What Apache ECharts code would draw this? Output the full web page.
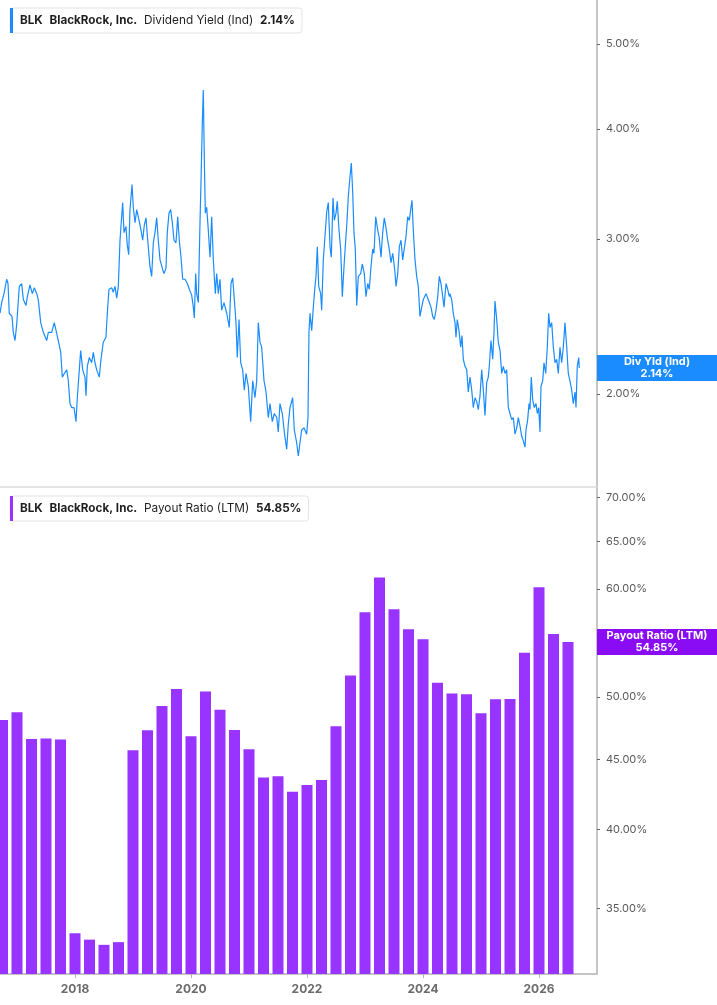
<!DOCTYPE html>
<html><head><meta charset="utf-8">
<script src="https://cdn.jsdelivr.net/npm/echarts@6/dist/echarts.min.js"></script>
<style>html,body{margin:0;padding:0;background:#fff}#c{width:717px;height:1005px}</style>
</head><body><div id="c"></div>
<script>
// Dividend yield (Ind), % — dates as decimal years
const yieldDates = [
2016.707,2016.736,2016.776,2016.822,2016.845,2016.867,2016.914,2016.936,2016.966,2016.995,
2017.022,2017.040,2017.081,2017.109,2017.155,2017.178,2017.224,2017.264,2017.298,2017.340,
2017.367,2017.409,2017.454,2017.512,2017.540,2017.598,2017.643,2017.672,2017.712,2017.754,
2017.781,2017.816,2017.857,2017.885,2017.914,2017.943,2017.983,2018.017,2018.040,2018.064,
2018.098,2018.133,2018.172,2018.190,2018.212,2018.247,2018.288,2018.316,2018.345,2018.374,
2018.419,2018.448,2018.488,2018.534,2018.557,2018.586,2018.633,2018.660,2018.690,2018.719,
2018.747,2018.776,2018.822,2018.845,2018.879,2018.902,2018.926,2018.948,2018.983,2019.005,
2019.035,2019.064,2019.109,2019.138,2019.167,2019.195,2019.224,2019.254,2019.293,2019.322,
2019.350,2019.379,2019.408,2019.436,2019.466,2019.512,2019.535,2019.569,2019.591,2019.621,
2019.650,2019.678,2019.707,2019.741,2019.771,2019.798,2019.828,2019.857,2019.897,2019.936,
2019.971,2020.012,2020.040,2020.057,2020.081,2020.098,2020.126,2020.155,2020.172,2020.195,
2020.212,2020.229,2020.247,2020.271,2020.298,2020.328,2020.357,2020.385,2020.419,2020.443,
2020.471,2020.500,2020.529,2020.569,2020.616,2020.660,2020.690,2020.719,2020.747,2020.776,
2020.798,2020.828,2020.857,2020.891,2020.919,2020.948,2020.988,2021.029,2021.064,2021.103,
2021.133,2021.160,2021.190,2021.219,2021.259,2021.293,2021.333,2021.362,2021.402,2021.436,
2021.478,2021.505,2021.534,2021.574,2021.609,2021.650,2021.678,2021.707,2021.753,2021.781,
2021.822,2021.850,2021.879,2021.908,2021.948,2021.995,2022.017,2022.034,2022.052,2022.081,
2022.109,2022.138,2022.155,2022.178,2022.202,2022.236,2022.253,2022.281,2022.310,2022.340,
2022.367,2022.397,2022.419,2022.448,2022.471,2022.500,2022.522,2022.552,2022.581,2022.609,
2022.638,2022.660,2022.684,2022.712,2022.741,2022.764,2022.788,2022.810,2022.833,2022.857,
2022.885,2022.926,2022.953,2022.988,2023.017,2023.047,2023.074,2023.103,2023.133,2023.155,
2023.185,2023.219,2023.246,2023.276,2023.305,2023.333,2023.362,2023.391,2023.419,2023.448,
2023.478,2023.512,2023.535,2023.564,2023.592,2023.621,2023.650,2023.678,2023.707,2023.736,
2023.764,2023.793,2023.810,2023.833,2023.862,2023.891,2023.919,2023.948,2023.978,2024.005,
2024.052,2024.081,2024.109,2024.138,2024.167,2024.195,2024.224,2024.254,2024.281,2024.310,
2024.340,2024.362,2024.397,2024.426,2024.454,2024.466,2024.495,2024.522,2024.552,2024.569,
2024.591,2024.621,2024.650,2024.672,2024.695,2024.724,2024.754,2024.781,2024.810,2024.840,
2024.867,2024.897,2024.926,2024.954,2024.983,2025.012,2025.040,2025.069,2025.098,2025.126,
2025.143,2025.172,2025.202,2025.224,2025.241,2025.271,2025.298,2025.328,2025.357,2025.385,
2025.414,2025.443,2025.471,2025.500,2025.529,2025.557,2025.586,2025.616,2025.643,2025.672,
2025.702,2025.729,2025.759,2025.776,2025.805,2025.828,2025.845,2025.867,2025.891,2025.919,
2025.948,2025.971,2025.995,2026.017,2026.034,2026.064,2026.086,2026.116,2026.143,2026.167,
2026.190,2026.219,2026.247,2026.276,2026.305,2026.333,2026.362,2026.391,2026.419,2026.448,
2026.478,2026.505,2026.534,2026.564,2026.591,2026.621,2026.638,2026.660,2026.685,2026.695
];
const yieldValues = [
2.47,2.54,2.60,2.70,2.67,2.47,2.45,2.35,2.30,2.40,
2.41,2.65,2.67,2.56,2.52,2.58,2.66,2.60,2.64,2.60,
2.56,2.41,2.35,2.30,2.35,2.35,2.41,2.41,2.30,2.23,
2.09,2.11,2.13,2.07,1.95,1.93,1.93,1.86,1.98,1.97,
2.24,2.13,2.09,1.99,2.15,2.20,2.17,2.23,2.17,2.13,
2.09,2.19,2.29,2.32,2.47,2.63,2.64,2.61,2.65,2.57,
2.65,2.99,3.30,3.05,3.10,2.95,2.88,3.24,3.46,3.26,
3.13,3.24,3.14,3.07,2.99,3.11,3.17,2.99,2.79,2.72,
2.97,3.05,3.17,2.99,2.84,2.77,2.74,2.78,3.05,3.21,
3.24,3.13,2.99,2.97,3.18,2.99,2.86,2.70,2.70,2.67,
2.63,2.59,2.51,2.44,2.74,2.60,2.54,3.13,3.47,4.06,
4.43,3.72,3.21,3.26,3.07,2.86,3.18,2.84,2.60,2.74,
2.60,2.70,2.49,2.54,2.47,2.38,2.67,2.71,2.56,2.41,
2.20,2.43,2.17,2.13,2.02,2.11,2.04,1.86,2.07,1.98,
2.07,2.41,2.29,2.26,2.07,2.01,1.88,1.95,1.86,1.90,
1.88,1.81,1.95,1.90,1.81,1.73,1.85,1.93,1.98,1.82,
1.76,1.70,1.76,1.82,1.83,1.80,1.88,2.35,2.47,2.36,
2.51,2.65,2.72,2.94,2.65,2.60,2.49,2.84,3.02,3.22,
3.30,2.94,2.86,3.34,3.15,3.21,3.31,3.07,2.92,2.58,
2.79,2.94,3.10,3.35,3.53,3.66,3.39,3.05,2.92,2.52,
2.72,2.74,2.81,2.74,2.58,2.67,2.63,2.79,2.92,2.89,
3.18,3.07,3.01,2.86,3.05,3.17,3.09,2.99,2.92,2.82,
2.89,2.77,2.65,2.74,2.94,2.99,2.84,2.84,3.02,3.18,
3.15,3.26,3.32,3.07,2.84,2.72,2.65,2.45,2.51,2.56,
2.60,2.60,2.54,2.51,2.45,2.43,2.49,2.58,2.72,2.67,
2.58,2.51,2.67,2.63,2.58,2.60,2.56,2.47,2.41,2.32,
2.43,2.36,2.26,2.33,2.19,2.15,2.13,2.01,2.09,2.02,
1.93,1.98,1.96,1.92,1.99,2.13,2.02,1.89,2.06,2.09,
2.15,2.30,2.19,2.35,2.55,2.43,2.29,2.24,2.11,2.15,
2.11,2.13,1.93,1.90,1.87,1.88,1.80,1.83,1.88,1.84,
1.79,1.77,1.74,1.82,1.87,1.95,1.92,2.09,1.97,1.93,
1.95,1.90,1.93,1.81,2.04,2.07,2.17,2.11,2.26,2.47,
2.38,2.41,2.26,2.17,2.19,2.11,2.26,2.17,2.26,2.41,
2.26,2.11,2.07,2.02,1.95,2.01,1.93,2.15,2.20,2.14
];
// Payout ratio (LTM), % — quarterly
const payoutDates = [
2016.75,2017.00,2017.25,2017.50,2017.75,2018.00,2018.25,2018.50,2018.75,2019.00,
2019.25,2019.50,2019.75,2020.00,2020.25,2020.50,2020.75,2021.00,2021.25,2021.50,
2021.75,2022.00,2022.25,2022.50,2022.75,2023.00,2023.25,2023.50,2023.75,2024.00,
2024.25,2024.50,2024.75,2025.00,2025.25,2025.50,2025.75,2026.00,2026.25,2026.50
];
const payoutValues = [
48.10,48.73,46.58,46.61,46.53,33.56,33.20,32.91,33.06,45.70,
47.27,49.25,50.68,46.79,50.45,48.94,47.29,45.78,43.64,43.74,
42.60,43.10,43.47,47.59,51.83,57.68,61.15,57.97,56.05,55.11,
51.22,50.28,50.23,48.64,49.81,49.83,53.88,60.16,55.61,54.85
];
const yieldTicks = [2, 3, 4, 5];
const payoutTicks = [35, 40, 45, 50, 55, 60, 65, 70];
const yearTicks = [2018, 2020, 2022, 2024, 2026];

const FONT = 'Inter, "Noto Sans", sans-serif';
const BLUE = '#1a8cff', PURPLE = '#9933ff', PURPLE_DARK = '#8a0cf5';
const fmtPct = v => Number(v).toFixed(2) + '%';
const lastYield = yieldValues[yieldValues.length - 1];
const lastPayout = payoutValues[payoutValues.length - 1];

function legendCfg(top, name, value) {
  return {
    top: top, left: 10, selectedMode: false,
    data: [{ name: name, icon: 'rect' }],
    itemWidth: 3, itemHeight: 25, itemGap: 0,
    padding: [0, 7, 0, 0],
    borderColor: '#e4e4e4', borderWidth: 1, borderRadius: 3, backgroundColor: '#fff',
    formatter: n => `{f|BLK}  {b|BlackRock, Inc.}  {n|${n}}  {b|${fmtPct(value)}}`,
    textStyle: {
      rich: {
        f: { fontWeight: 'bold', fontSize: 11.7, color: '#1f1f1f', fontFamily: FONT, padding: [0, 0, 0, 2] },
        b: { fontWeight: 'bold', fontSize: 11.7, color: '#1f1f1f', fontFamily: FONT },
        n: { fontSize: 11.8, color: '#1f1f1f', fontFamily: FONT }
      }
    }
  };
}
function lastLabel(title, value, color) {
  return {
    silent: true, symbol: 'none',
    lineStyle: { color: 'rgba(0,0,0,0)', width: 0 },
    data: [{ yAxis: value }],
    label: {
      show: true, position: 'end', distance: 0, opacity: 1,
      backgroundColor: color, padding: [1, 0, 1, 0],
      formatter: `{t|${title}}\n{t|${fmtPct(value)}}`,
      rich: { t: { width: 120, align: 'center', color: '#fff', fontWeight: 'bold', fontSize: 11, lineHeight: 12, fontFamily: FONT } }
    }
  };
}
function yAxisCfg(idx, min, max, ticks) {
  return {
    gridIndex: idx, type: 'log', logBase: 10, position: 'right', min: min, max: max,
    axisLine: { show: true, onZero: false, lineStyle: { color: '#b3b3b3', width: 1.5 } },
    axisTick: { show: true, customValues: ticks, length: 3, lineStyle: { color: '#666' } },
    axisLabel: { customValues: ticks, formatter: fmtPct, color: '#5a5a5a', fontSize: 11, fontFamily: FONT, margin: 9 },
    splitLine: { show: false }
  };
}

const chart = echarts.init(document.getElementById('c'), null, { renderer: 'canvas' });
chart.setOption({
  animation: false,
  backgroundColor: '#fff',
  textStyle: { fontFamily: FONT },
  legend: [legendCfg(8, 'Dividend Yield (Ind)', lastYield), legendCfg(496, 'Payout Ratio (LTM)', lastPayout)],
  grid: [
    { left: 0, right: 120, top: 0, height: 487 },
    { left: 0, right: 120, top: 487, height: 487 }
  ],
  xAxis: [
    { gridIndex: 0, type: 'value', min: 2016.707, max: 2027.0,
      axisLine: { show: true, onZero: false, lineStyle: { color: '#dcdcdc', width: 1.5 } },
      axisTick: { show: false }, axisLabel: { show: false }, splitLine: { show: false } },
    { gridIndex: 1, type: 'value', min: 2016.707, max: 2027.0,
      axisLine: { show: true, onZero: false, lineStyle: { color: '#b3b3b3', width: 1.5 } },
      axisTick: { show: true, customValues: yearTicks, length: 4, lineStyle: { color: '#b3b3b3' } },
      axisLabel: { customValues: yearTicks, formatter: v => String(Math.round(v)), color: '#6b6b6b', fontWeight: 'bold', fontSize: 12, fontFamily: FONT, margin: 9 },
      splitLine: { show: false } }
  ],
  yAxis: [
    yAxisCfg(0, 1.5676, 5.607, yieldTicks),
    yAxisCfg(1, 31.33, 71.25, payoutTicks)
  ],
  series: [
    { type: 'line', name: 'Dividend Yield (Ind)', xAxisIndex: 0, yAxisIndex: 0,
      data: yieldDates.map((d, i) => [d, yieldValues[i]]),
      symbol: 'none', showSymbol: false, color: BLUE,
      lineStyle: { color: BLUE, width: 1.2 },
      markLine: lastLabel('Div Yld (Ind)', lastYield, BLUE) },
    { type: 'bar', name: 'Payout Ratio (LTM)', xAxisIndex: 1, yAxisIndex: 1,
      data: payoutDates.map((d, i) => [d, payoutValues[i]]),
      barWidth: 11, clip: true, color: PURPLE,
      itemStyle: { color: PURPLE },
      markLine: lastLabel('Payout Ratio (LTM)', lastPayout, PURPLE_DARK) }
  ]
});
</script>
</body></html>
